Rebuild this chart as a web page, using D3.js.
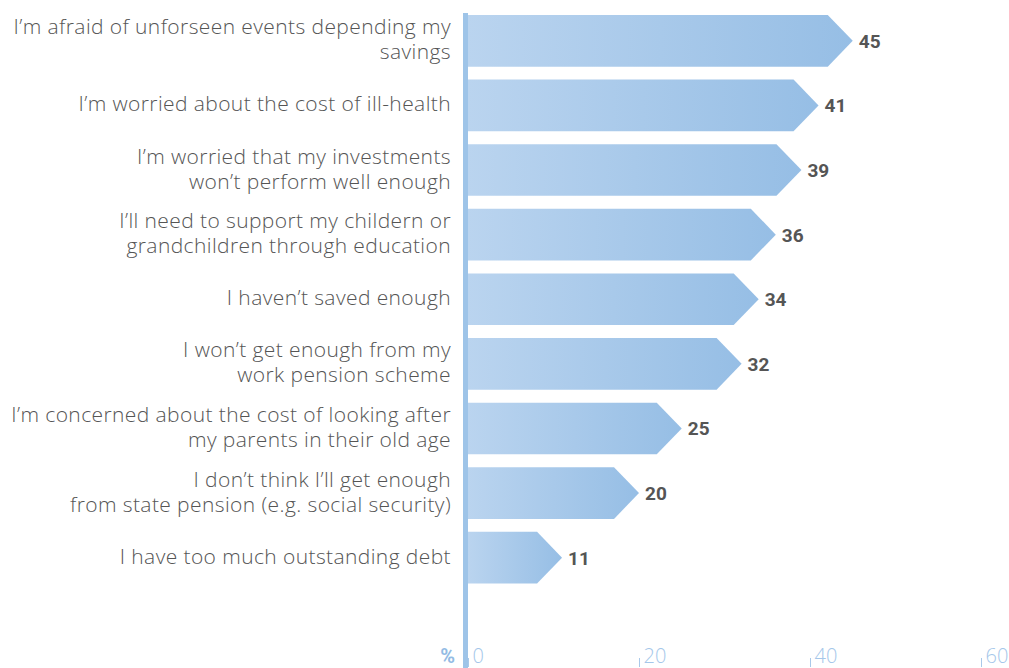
<!DOCTYPE html>
<html>
<head>
<meta charset="utf-8">
<script src="https://cdn.jsdelivr.net/npm/d3@7/dist/d3.min.js"></script>
<style>
  html, body { margin: 0; padding: 0; background: #fff; }
  svg { display: block; }
</style>
</head>
<body>
<svg id="chart" width="1009" height="668"></svg>
<script>
// Reasons people worry about their savings (% of respondents)
const categories = [
  "I\u2019m afraid of unforseen events depending my\nsavings",
  "I\u2019m worried about the cost of ill-health",
  "I\u2019m worried that my investments\nwon\u2019t perform well enough",
  "I\u2019ll need to support my childern or\ngrandchildren through education",
  "I haven\u2019t saved enough",
  "I won\u2019t get enough from my\nwork pension scheme",
  "I\u2019m concerned about the cost of looking after\nmy parents in their old age",
  "I don\u2019t think I\u2019ll get enough\nfrom state pension (e.g. social security)",
  "I have too much outstanding debt"
];
const values = [45, 41, 39, 36, 34, 32, 25, 20, 11];
const tickValues = [0, 20, 40, 60];
const unitLabel = "%";

const svg = d3.select("#chart");
const W = 1009, H = 668;
const lightFont = "'Open Sans', Roboto, sans-serif";
const boldFont = "Roboto, 'Liberation Sans', sans-serif";

const x = d3.scaleLinear().domain([0, 60]).range([468, 981]);
const y = d3.scaleBand()
  .domain(d3.range(categories.length))
  .range([8.5, 590])
  .paddingInner(0.2)
  .paddingOuter(0.1);

// horizontal gradient applied per bar
const defs = svg.append("defs");
const grad = defs.append("linearGradient")
  .attr("id", "barGrad")
  .attr("x1", "0").attr("x2", "1").attr("y1", "0").attr("y2", "0");
grad.append("stop").attr("offset", "0%").attr("stop-color", "#bad4ef");
grad.append("stop").attr("offset", "100%").attr("stop-color", "#96bee5");

const tipW = 25;
function arrowPath(v, i) {
  const x0 = x(0), xt = x(v), xb = xt - tipW;
  const t = y(i), b = t + y.bandwidth(), m = t + y.bandwidth() / 2;
  return `M${x0},${t}L${xb},${t}L${xt},${m}L${xb},${b}L${x0},${b}Z`;
}

// arrow-shaped bars
svg.append("g").selectAll("path")
  .data(values)
  .join("path")
  .attr("d", (d, i) => arrowPath(d, i))
  .attr("fill", "url(#barGrad)");

// value labels at the arrow tips
svg.append("g").selectAll("text")
  .data(values)
  .join("text")
  .attr("x", d => x(d) + 6)
  .attr("y", (d, i) => y(i) + y.bandwidth() / 2 + 7)
  .attr("font-family", boldFont)
  .attr("font-weight", 700)
  .attr("font-size", 19)
  .attr("fill", "#555555")
  .text(d => d);

// category labels, right-aligned against the axis
const lineGap = 25;
const catG = svg.append("g");
categories.forEach((c, i) => {
  const lines = c.split("\n");
  const cy = y(i) + y.bandwidth() / 2 + 6;
  const t = catG.append("text")
    .attr("text-anchor", "end")
    .attr("font-family", lightFont)
    .attr("font-weight", 300)
    .attr("font-size", 21)
    .attr("letter-spacing", 0.4)
    .attr("fill", "#555555");
  lines.forEach((ln, j) => {
    t.append("tspan")
      .attr("x", 451)
      .attr("y", cy + (j - (lines.length - 1) / 2) * lineGap)
      .text(ln);
  });
});

// vertical baseline
svg.append("rect")
  .attr("x", x(0) - 5)
  .attr("y", 13)
  .attr("width", 5)
  .attr("height", H - 13)
  .attr("fill", "#9ec4e8");

// bottom axis
const axisG = svg.append("g")
  .attr("transform", `translate(0, ${H - 10})`)
  .call(d3.axisBottom(x).tickValues(tickValues).tickSize(9).tickFormat(d3.format("d")));
axisG.select(".domain").remove();
axisG.selectAll(".tick line").attr("stroke", "#a9c9ea").attr("stroke-width", 1);
axisG.selectAll(".tick text")
  .attr("text-anchor", "start")
  .attr("x", 4)
  .attr("y", 5)
  .attr("dy", null)
  .attr("font-family", lightFont)
  .attr("font-weight", 300)
  .attr("font-size", 20)
  .attr("fill", "#a5c7ea");

svg.append("text")
  .attr("x", 455)
  .attr("y", H - 5)
  .attr("text-anchor", "end")
  .attr("font-family", boldFont)
  .attr("font-weight", 700)
  .attr("font-size", 20)
  .attr("fill", "#93bbe4")
  .text(unitLabel);
</script>
</body>
</html>
